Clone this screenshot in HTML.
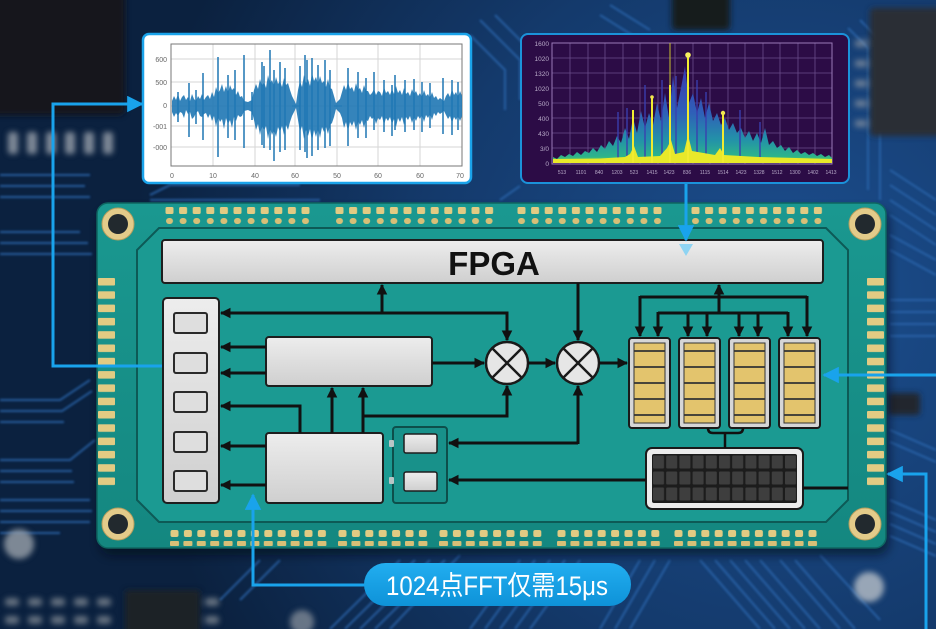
<!DOCTYPE html>
<html><head><meta charset="utf-8"><style>
html,body{margin:0;padding:0;background:#10305a;}
svg{display:block;}
</style></head><body>
<svg width="936" height="629" viewBox="0 0 936 629" xmlns="http://www.w3.org/2000/svg">
<defs>
  <radialGradient id="bg" cx="780" cy="300" r="650" gradientUnits="userSpaceOnUse">
    <stop offset="0" stop-color="#1c4f90"/>
    <stop offset="0.55" stop-color="#143a6c"/>
    <stop offset="1" stop-color="#0b213f"/>
  </radialGradient>
  <filter id="blur3"><feGaussianBlur stdDeviation="3"/></filter>
  <filter id="blur1"><feGaussianBlur stdDeviation="1"/></filter>
  <filter id="shadow" x="-10%" y="-10%" width="120%" height="130%"><feGaussianBlur stdDeviation="5"/></filter>
  <linearGradient id="gray" x1="0" y1="0" x2="0" y2="1">
    <stop offset="0" stop-color="#ededed"/><stop offset="1" stop-color="#cfcfcf"/>
  </linearGradient>
  <linearGradient id="board" x1="0" y1="0" x2="0" y2="1">
    <stop offset="0" stop-color="#1a9890"/><stop offset="1" stop-color="#148780"/>
  </linearGradient>
  <linearGradient id="pill" x1="0" y1="0" x2="0" y2="1">
    <stop offset="0" stop-color="#22aef0"/><stop offset="1" stop-color="#0e92d8"/>
  </linearGradient>
  <linearGradient id="spec" x1="0" y1="70" x2="0" y2="164" gradientUnits="userSpaceOnUse">
    <stop offset="0" stop-color="#3a3cb0"/>
    <stop offset="0.45" stop-color="#2f5fb8"/>
    <stop offset="0.75" stop-color="#2393a8"/>
    <stop offset="0.92" stop-color="#2db48a"/>
    <stop offset="1" stop-color="#8fd844"/>
  </linearGradient>
  <pattern id="pt" width="13.6" height="20" patternUnits="userSpaceOnUse">
    <rect x="0.5" y="0" width="8" height="7" rx="1.5" fill="#e2cb83"/>
    <rect x="1" y="11" width="7" height="6" rx="3" fill="#d8bf77"/>
  </pattern>
  <pattern id="pb" width="13.4" height="20" patternUnits="userSpaceOnUse">
    <rect x="0.5" y="0" width="8" height="7" rx="2" fill="#e2cb83"/>
    <rect x="0" y="11" width="9" height="5" rx="1" fill="#d8bf77"/>
  </pattern>
  <pattern id="pl" width="20" height="13.3" patternUnits="userSpaceOnUse">
    <rect x="0" y="0" width="17" height="7.5" rx="1" fill="#e2cb83"/>
  </pattern>
  <pattern id="pc" width="13.2" height="16" patternUnits="userSpaceOnUse">
    <rect x="1" y="1.5" width="11" height="13" rx="1" fill="#3e3e3e"/>
  </pattern>
  <marker id="ah" viewBox="0 0 10 10" refX="9" refY="5" markerWidth="3.6" markerHeight="3.6" orient="auto" markerUnits="strokeWidth">
    <path d="M0,0 L10,5 L0,10 z" fill="#111"/>
  </marker>
  <marker id="bh" viewBox="0 0 10 10" refX="9" refY="5" markerWidth="6" markerHeight="5.5" orient="auto" markerUnits="strokeWidth">
    <path d="M0,0 L10,5 L0,10 z" fill="#19a3ec"/>
  </marker>
</defs>

<!-- background -->
<rect width="936" height="629" fill="url(#bg)"/>
<g filter="url(#blur1)" stroke="#2c66ad" stroke-width="2.2" fill="none" opacity="0.75">
  <path d="M0,175 H90 M0,186 H85 M0,197 H90 M0,232 H80 M0,243 H88 M0,254 H92 M0,400 H60 L90,380 M0,411 H62 L92,391 M0,422 H64 M0,460 H70 L95,440 M0,471 H72 M0,482 H74 M0,500 H90 M0,511 H92 M0,522 H90 M0,533 H60"/>
  <path d="M150,195 L170,185 H300 M150,200 H320 M480,20 L520,60 V100 M495,15 L535,55 M470,35 L505,70 V110 M500,200 L520,186 M600,15 L640,40 M610,5 L650,30"/>
  <path d="M890,170 L936,200 M890,185 L936,215 M890,200 L936,230 M890,215 L936,245 M890,235 L936,260 M890,250 L936,275 M890,300 H936 M890,312 H936 M890,324 H936 M890,336 H936 M890,430 L936,450 M890,442 L936,462 M890,500 L936,520 M890,512 L936,532 M890,524 L936,544 M890,536 L936,556 M860,20 L880,40 V200 M848,28 L868,48 V190"/>
  <path d="M330,629 L400,560 M345,629 L415,560 M360,629 L430,560 M375,629 L445,560 M390,629 L460,555 M470,629 L520,560 M485,629 L535,560 M500,629 L550,560 M515,629 L565,560 M530,629 L580,560 M600,629 L640,560 M615,629 L655,560 M630,629 L670,560 M700,560 L760,629 M715,560 L775,629 M730,560 L790,629 M745,560 L805,629 M760,560 L820,629 M780,560 L840,629 M795,560 L855,629 M820,555 L880,620 M240,600 L280,560 M220,600 L260,560"/>
</g>
<g filter="url(#blur3)">
  <rect x="-10" y="-10" width="135" height="125" rx="6" fill="#15191f"/>
  <g fill="#9aa3ad" opacity="0.8">
    <rect x="8" y="132" width="10" height="22" rx="3"/><rect x="27" y="132" width="10" height="22" rx="3"/><rect x="46" y="132" width="10" height="22" rx="3"/><rect x="65" y="132" width="10" height="22" rx="3"/><rect x="84" y="132" width="10" height="22" rx="3"/><rect x="103" y="132" width="10" height="22" rx="3"/>
  </g>
  <rect x="672" y="-10" width="58" height="40" rx="4" fill="#181a1d"/>
  <rect x="870" y="8" width="80" height="128" rx="4" fill="#2a2e35"/>
  <g fill="#8d97a3" opacity="0.7"><rect x="855" y="40" width="12" height="7"/><rect x="855" y="60" width="12" height="7"/><rect x="855" y="80" width="12" height="7"/><rect x="855" y="100" width="12" height="7"/><rect x="855" y="120" width="12" height="7"/></g>
  <rect x="888" y="393" width="32" height="22" rx="3" fill="#23272d"/>
  <circle cx="19" cy="544" r="15" fill="#9aa2ab" opacity="0.8"/>
  <circle cx="869" cy="587" r="15" fill="#b9c0c8" opacity="0.8"/>
  <circle cx="302" cy="622" r="12" fill="#8f979f" opacity="0.7"/>
  <rect x="125" y="590" width="75" height="50" rx="3" fill="#1d2126"/>
  <g fill="#8c949c" opacity="0.7"><rect x="5" y="598" width="14" height="8" rx="3"/><rect x="28" y="598" width="14" height="8" rx="3"/><rect x="51" y="598" width="14" height="8" rx="3"/><rect x="74" y="598" width="14" height="8" rx="3"/><rect x="97" y="598" width="14" height="8" rx="3"/><rect x="5" y="616" width="14" height="8" rx="3"/><rect x="28" y="616" width="14" height="8" rx="3"/><rect x="51" y="616" width="14" height="8" rx="3"/><rect x="74" y="616" width="14" height="8" rx="3"/><rect x="97" y="616" width="14" height="8" rx="3"/><rect x="205" y="598" width="14" height="8" rx="3"/><rect x="205" y="616" width="14" height="8" rx="3"/></g>
</g>

<!-- board -->
<rect x="100" y="210" width="789" height="345" rx="12" fill="#050d18" opacity="0.6" filter="url(#shadow)"/>
<rect x="97" y="203" width="789" height="345" rx="11" fill="url(#board)" stroke="#0e6661" stroke-width="1.5"/>
<path d="M159,228 H826 L848,250 V500 L826,522 H159 L137,500 V250 Z" fill="#1b9a92" stroke="#0d5a56" stroke-width="2"/>

<!-- pads -->
<g transform="translate(165,207)"><rect width="150" height="18" fill="url(#pt)"/></g>
<g transform="translate(335,207)"><rect width="163" height="18" fill="url(#pt)"/></g>
<g transform="translate(517,207)"><rect width="150" height="18" fill="url(#pt)"/></g>
<g transform="translate(691,207)"><rect width="136" height="18" fill="url(#pt)"/></g>
<g transform="translate(170,530)"><rect width="160" height="17" fill="url(#pb)"/></g>
<g transform="translate(338,530)"><rect width="93" height="17" fill="url(#pb)"/></g>
<g transform="translate(439,530)"><rect width="107" height="17" fill="url(#pb)"/></g>
<g transform="translate(557,530)"><rect width="107" height="17" fill="url(#pb)"/></g>
<g transform="translate(674,530)"><rect width="147" height="17" fill="url(#pb)"/></g>
<g transform="translate(98,278)"><rect width="18" height="212" fill="url(#pl)"/></g>
<g transform="translate(867,278)"><rect width="18" height="212" fill="url(#pl)"/></g>

<!-- holes -->
<g>
  <circle cx="118" cy="224" r="16" fill="#e3cb8a" stroke="#b79f5e" stroke-width="1"/><circle cx="118" cy="224" r="10" fill="#22292e"/>
  <circle cx="865" cy="224" r="16" fill="#e3cb8a" stroke="#b79f5e" stroke-width="1"/><circle cx="865" cy="224" r="10" fill="#22292e"/>
  <circle cx="118" cy="524" r="16" fill="#e3cb8a" stroke="#b79f5e" stroke-width="1"/><circle cx="118" cy="524" r="10" fill="#22292e"/>
  <circle cx="865" cy="524" r="16" fill="#e3cb8a" stroke="#b79f5e" stroke-width="1"/><circle cx="865" cy="524" r="10" fill="#22292e"/>
</g>

<!-- FPGA bar -->
<rect x="162" y="240" width="661" height="43" rx="3" fill="url(#gray)" stroke="#1e1e1e" stroke-width="2"/>
<text x="494" y="275" text-anchor="middle" font-family="Liberation Sans, sans-serif" font-weight="bold" font-size="33" fill="#111">FPGA</text>

<!-- left IO column -->
<rect x="163" y="298" width="56" height="205" rx="4" fill="url(#gray)" stroke="#1e1e1e" stroke-width="2"/>
<g fill="#dedede" stroke="#2a2a2a" stroke-width="2">
  <rect x="174" y="313" width="33" height="20" rx="2"/>
  <rect x="174" y="353" width="33" height="20" rx="2"/>
  <rect x="174" y="392" width="33" height="20" rx="2"/>
  <rect x="174" y="432" width="33" height="20" rx="2"/>
  <rect x="174" y="471" width="33" height="20" rx="2"/>
</g>

<!-- boxes -->
<rect x="266" y="337" width="166" height="49" rx="3" fill="url(#gray)" stroke="#1e1e1e" stroke-width="2"/>
<rect x="266" y="433" width="117" height="70" rx="3" fill="url(#gray)" stroke="#1e1e1e" stroke-width="2"/>
<rect x="393" y="427" width="54" height="76" rx="3" fill="#18918a" stroke="#0d4f4b" stroke-width="2"/>
<rect x="404" y="434" width="33" height="19" rx="2" fill="url(#gray)" stroke="#1e1e1e" stroke-width="1.5"/>
<rect x="404" y="472" width="33" height="19" rx="2" fill="url(#gray)" stroke="#1e1e1e" stroke-width="1.5"/>
<rect x="389" y="440" width="5" height="7" rx="1" fill="#b9c6c6"/>
<rect x="389" y="477" width="5" height="7" rx="1" fill="#b9c6c6"/>

<!-- multipliers -->
<g stroke="#1a1a1a" stroke-width="2.5">
  <circle cx="507" cy="363" r="21" fill="#e6e6e6"/>
  <path d="M492,348 L522,378 M522,348 L492,378" fill="none"/>
  <circle cx="578" cy="363" r="21" fill="#e6e6e6"/>
  <path d="M563,348 L593,378 M593,348 L563,378" fill="none"/>
</g>

<!-- memory banks -->
<g>
  <rect x="629" y="338" width="41" height="90" rx="3" fill="#d6d6d6" stroke="#1a1a1a" stroke-width="2"/>
  <rect x="634" y="343" width="31" height="80" fill="#e3c46d" stroke="#333" stroke-width="1"/>
  <path d="M634,351 H665 M634,367 H665 M634,383 H665 M634,399 H665 M634,415 H665" stroke="#333" stroke-width="1.8"/>
</g>
<g transform="translate(50,0)">
  <rect x="629" y="338" width="41" height="90" rx="3" fill="#d6d6d6" stroke="#1a1a1a" stroke-width="2"/>
  <rect x="634" y="343" width="31" height="80" fill="#e3c46d" stroke="#333" stroke-width="1"/>
  <path d="M634,351 H665 M634,367 H665 M634,383 H665 M634,399 H665 M634,415 H665" stroke="#333" stroke-width="1.8"/>
</g>
<g transform="translate(100,0)">
  <rect x="629" y="338" width="41" height="90" rx="3" fill="#d6d6d6" stroke="#1a1a1a" stroke-width="2"/>
  <rect x="634" y="343" width="31" height="80" fill="#e3c46d" stroke="#333" stroke-width="1"/>
  <path d="M634,351 H665 M634,367 H665 M634,383 H665 M634,399 H665 M634,415 H665" stroke="#333" stroke-width="1.8"/>
</g>
<g transform="translate(150,0)">
  <rect x="629" y="338" width="41" height="90" rx="3" fill="#d6d6d6" stroke="#1a1a1a" stroke-width="2"/>
  <rect x="634" y="343" width="31" height="80" fill="#e3c46d" stroke="#333" stroke-width="1"/>
  <path d="M634,351 H665 M634,367 H665 M634,383 H665 M634,399 H665 M634,415 H665" stroke="#333" stroke-width="1.8"/>
</g>

<!-- connector -->
<rect x="646" y="448" width="157" height="61" rx="6" fill="#ececec" stroke="#1a1a1a" stroke-width="2"/>
<rect x="652" y="454" width="145" height="49" rx="2" fill="#1c1c1c"/>
<g transform="translate(652,454)"><rect width="145" height="48" fill="url(#pc)"/></g>

<!-- black connectors -->
<g stroke="#111" stroke-width="3" fill="none">
  <path d="M382,313 H221" marker-end="url(#ah)"/>
  <path d="M380,313 H507 V340" marker-end="url(#ah)"/>
  <path d="M382,314 V285" marker-end="url(#ah)"/>
  <path d="M266,347 H221" marker-end="url(#ah)"/>
  <path d="M266,373 H221" marker-end="url(#ah)"/>
  <path d="M300,433 V406 H221" marker-end="url(#ah)"/>
  <path d="M266,446 H221" marker-end="url(#ah)"/>
  <path d="M266,485 H221" marker-end="url(#ah)"/>
  <path d="M332,433 V388" marker-end="url(#ah)"/>
  <path d="M363,433 V388" marker-end="url(#ah)"/>
  <path d="M363,416 H507 V386" marker-end="url(#ah)"/>
  <path d="M432,363 H484" marker-end="url(#ah)"/>
  <path d="M528,363 H555" marker-end="url(#ah)"/>
  <path d="M578,283 V340" marker-end="url(#ah)"/>
  <path d="M599,363 H627" marker-end="url(#ah)"/>
  <path d="M578,443 H449" marker-end="url(#ah)"/>
  <path d="M578,444 V386" marker-end="url(#ah)"/>
  <path d="M646,480 H449" marker-end="url(#ah)"/>
  <path d="M803,488 H848"/>
  <path d="M719,313 V285" marker-end="url(#ah)"/>
  <path d="M640,297 H807"/>
  <path d="M640,296 V336" marker-end="url(#ah)"/>
  <path d="M807,296 V336" marker-end="url(#ah)"/>
  <path d="M658,313 H788"/>
  <path d="M658,312 V336" marker-end="url(#ah)"/>
  <path d="M688,312 V336" marker-end="url(#ah)"/>
  <path d="M707,312 V336" marker-end="url(#ah)"/>
  <path d="M739,312 V336" marker-end="url(#ah)"/>
  <path d="M758,312 V336" marker-end="url(#ah)"/>
  <path d="M788,312 V336" marker-end="url(#ah)"/>
  <path d="M708,428 Q708,433 713,433 H738 Q743,433 743,428 M725,433 V448" stroke-width="2.5"/>
</g>

<!-- waveform box -->
<rect x="143" y="34" width="328" height="149" rx="6" fill="#ffffff" stroke="#1aa3ea" stroke-width="2.5"/>
<g stroke="#d6d6d6" stroke-width="1">
  <path d="M213,44 V166 M255,44 V166 M295,44 V166 M337,44 V166 M378,44 V166 M420,44 V166 M171,59 H462 M171,82 H462 M171,106 H462 M171,126 H462 M171,147 H462"/>
</g>
<rect x="171" y="44" width="291" height="122" fill="none" stroke="#777" stroke-width="1"/>
<g font-family="Liberation Sans, sans-serif" font-size="7" fill="#666" text-anchor="end">
  <text x="167" y="62">600</text><text x="167" y="85">500</text><text x="167" y="108">0</text><text x="167" y="129">-001</text><text x="167" y="150">-000</text>
</g>
<g font-family="Liberation Sans, sans-serif" font-size="7" fill="#666" text-anchor="middle">
  <text x="172" y="178">0</text><text x="213" y="178">10</text><text x="255" y="178">40</text><text x="295" y="178">60</text><text x="337" y="178">50</text><text x="378" y="178">60</text><text x="420" y="178">60</text><text x="460" y="178">70</text>
</g>
<polygon fill="#1f77b4" opacity="0.9" points="172,101 174,96 176,100 178,94 180,101 182,97 184,95 186,100 188,97 190,101 192,94 194,99 196,101 198,96 200,99 202,94 204,100 206,97 208,95 210,99 212,92 214,97 216,87 218,93 220,90 222,84 224,92 226,86 228,93 230,85 232,90 234,88 236,95 238,91 240,97 242,96 244,101 248,102 252,100 254,90 256,84 258,89 260,79 262,86 264,82 266,88 268,75 270,83 272,80 274,86 276,77 278,84 280,81 282,87 284,78 286,85 288,83 290,90 292,96 296,104 298,90 300,81 302,87 304,75 306,83 308,79 310,86 312,73 314,81 316,77 318,84 320,76 322,83 324,81 326,87 328,79 330,88 332,89 334,96 336,103 340,99 342,92 344,85 346,90 348,82 350,89 352,87 354,92 356,83 358,90 360,88 362,93 364,85 366,91 368,91 370,95 372,93 374,89 376,95 378,91 380,92 382,96 384,87 386,93 388,91 390,95 392,89 394,94 396,86 398,93 400,90 402,95 404,88 406,94 408,92 410,96 412,89 414,94 416,91 418,96 420,93 422,97 424,90 426,96 428,94 430,98 432,92 434,98 436,96 438,100 440,98 444,101 446,96 448,93 450,97 452,89 454,95 456,92 458,97 460,91 462,96 462,116 460,121 458,116 456,120 454,117 452,123 450,116 448,119 446,115 444,111 440,114 438,112 436,116 434,113 432,120 430,114 428,118 426,115 424,122 422,115 420,119 418,116 416,121 414,117 412,123 410,116 408,120 406,117 404,125 402,117 400,122 398,118 396,127 394,119 392,124 390,117 388,121 386,118 384,125 382,116 380,120 378,118 376,124 374,117 372,119 370,116 368,121 366,120 364,128 362,120 360,125 358,121 356,130 354,121 352,126 350,122 348,131 346,122 344,128 342,118 340,113 336,109 334,117 332,123 330,125 328,134 326,127 324,132 322,127 320,138 318,128 316,137 314,130 312,141 310,129 308,136 306,130 304,139 302,126 300,132 298,120 296,108 292,116 290,122 288,130 286,125 284,135 282,126 280,132 278,127 276,137 274,130 272,135 270,128 268,139 266,126 264,131 262,125 260,135 258,124 256,130 254,120 252,112 248,110 244,111 242,116 240,117 238,115 236,121 234,117 232,128 230,120 228,124 226,118 224,129 222,119 220,122 218,117 216,127 214,116 212,121 210,114 208,118 206,113 204,114 202,117 200,116 198,111 196,113 194,117 192,119 190,112 188,114 186,110 184,118 182,113 180,112 178,116 176,113 174,117 172,112"/>
<path stroke="#1f77b4" stroke-width="1.5" fill="none" d="M189,83V137 M203,73V140 M218,57V157 M244,55V148 M270,50V150 M274,70V161 M305,55V152 M307,60V158 M348,68V146 M395,75V130 M392,85V136 M414,79V130 M443,78V134 M235,70V140 M262,62V145 M285,68V150 M318,65V150 M325,60V148 M358,72V138 M374,72V130 M405,80V132 M430,83V128 M452,80V135 M228,75V138 M280,62V152 M300,66V150 M312,58V156 M330,70V146 M264,66V148 M252,92V120 M196,90V124 M178,92V122 M366,78V138 M384,80V132 M422,82V132 M458,82V130"/>
<path stroke="#1f77b4" stroke-width="1" d="M292,106 H300 M334,106 H342"/>

<!-- FFT box -->
<rect x="521" y="34" width="328" height="149" rx="7" fill="#2c0c46" stroke="#1b92da" stroke-width="2"/>
<g stroke="#7a5c9c" stroke-width="0.8" opacity="0.8">
  <path d="M570,43 V164 M588,43 V164 M605,43 V164 M623,43 V164 M640,43 V164 M658,43 V164 M675,43 V164 M693,43 V164 M710,43 V164 M728,43 V164 M745,43 V164 M763,43 V164 M780,43 V164 M798,43 V164 M815,43 V164 M552,58 H832 M552,73 H832 M552,88 H832 M552,103 H832 M552,118 H832 M552,133 H832 M552,148 H832"/>
</g>
<rect x="552" y="43" width="280" height="121" fill="none" stroke="#9a7ab8" stroke-width="1"/>
<g font-family="Liberation Sans, sans-serif" font-size="6.5" fill="#b8aac8" text-anchor="end">
  <text x="549" y="46">1600</text><text x="549" y="61">1020</text><text x="549" y="76">1320</text><text x="549" y="91">1020</text><text x="549" y="106">500</text><text x="549" y="121">400</text><text x="549" y="136">430</text><text x="549" y="151">3/0</text><text x="549" y="166">0</text>
</g>
<g font-family="Liberation Sans, sans-serif" font-size="5" fill="#b8aac8" text-anchor="middle">
  <text x="562" y="174">513</text><text x="581" y="174">1101</text><text x="599" y="174">840</text><text x="617" y="174">1203</text><text x="634" y="174">523</text><text x="652" y="174">1415</text><text x="669" y="174">1423</text><text x="687" y="174">836</text><text x="705" y="174">1115</text><text x="723" y="174">1514</text><text x="741" y="174">1423</text><text x="759" y="174">1328</text><text x="777" y="174">1512</text><text x="795" y="174">1300</text><text x="813" y="174">1402</text><text x="831" y="174">1413</text>
</g>
<polygon fill="url(#spec)" points="553,163 553,157 557,159 561,155 565,157 569,154 573,156 577,152 581,155 585,151 589,153 593,148 597,152 601,145 605,149 609,141 613,146 617,136 621,143 625,128 629,139 633,118 637,133 641,111 645,128 649,113 653,125 657,103 661,121 665,93 669,118 673,75 677,108 681,88 685,66 689,103 693,93 697,113 701,98 705,118 709,103 713,121 717,113 721,125 725,118 729,130 733,123 737,133 741,128 745,138 749,131 753,141 757,133 761,143 765,128 769,145 773,141 777,148 781,145 785,151 789,147 793,153 797,150 801,154 805,152 809,155 813,153 817,156 821,154 825,157 829,155 832,158 832,163"/>
<path stroke="#3a3fb0" stroke-width="1.5" opacity="0.9" d="M645,163V85 M662,163V80 M676,163V76 M697,163V80 M706,163V92 M740,163V110 M760,163V122 M627,163V108 M618,163V112"/>
<path fill="#e8e82a" d="M553,163 V159 L600,158.5 L625,157 L630,154 L634,146 L638,157 L660,156 L667,148 L671,140 L675,154 L684,152 L688,135 L692,151 L715,155 L720,148 L724,155 L758,157 L832,159 V163 Z"/>
<path stroke="#f2ec30" stroke-width="2" d="M633,163V110 M652,163V97 M670,163V85 M688,163V55 M723,163V113"/>
<path stroke="#c8c030" stroke-width="1" d="M670,85V43"/>
<circle cx="688" cy="55" r="2.8" fill="#f8f060"/>
<circle cx="652" cy="97" r="1.8" fill="#f0e850"/>
<circle cx="723" cy="113" r="2.2" fill="#f0e850"/>

<!-- blue connectors -->
<g stroke="#19a3ec" stroke-width="3" fill="none">
  <path d="M162,366 H53 V104 H142" marker-end="url(#bh)"/>
  <path d="M686,184 V240" marker-end="url(#bh)"/>
  <path d="M936,375 H824" marker-end="url(#bh)"/>
  <path d="M926,629 V474 H888" marker-end="url(#bh)"/>
  <path d="M366,585 H253 V495" marker-end="url(#bh)"/>
</g>
<path d="M679,244 H693 L686,256 Z" fill="#7fd0f5" opacity="0.85"/>

<!-- pill label -->
<rect x="364" y="563" width="267" height="43" rx="21.5" fill="url(#pill)"/>
<text x="497" y="595" text-anchor="middle" font-family="Liberation Sans, Noto Sans CJK SC, sans-serif" font-size="27" fill="#ffffff" textLength="222" lengthAdjust="spacingAndGlyphs">1024点FFT仅需15μs</text>
</svg>
</body></html>
